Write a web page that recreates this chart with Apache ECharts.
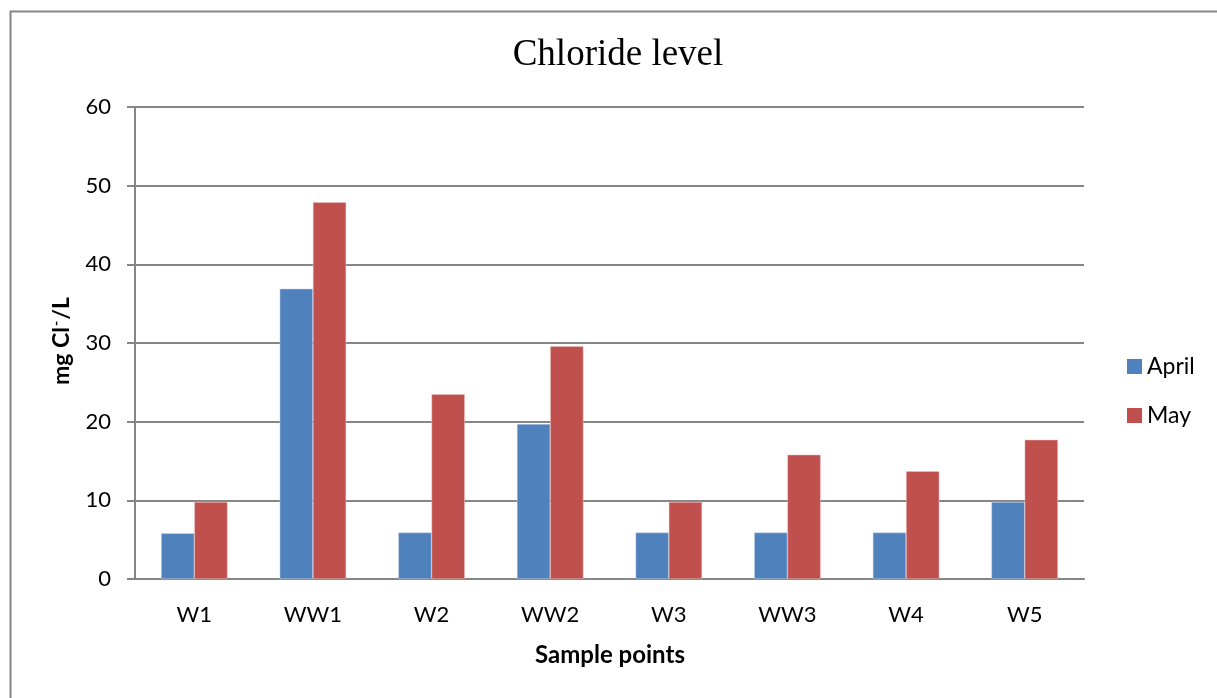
<!DOCTYPE html>
<html>
<head>
<meta charset="utf-8">
<script src="https://cdn.jsdelivr.net/npm/echarts@6/dist/echarts.min.js"></script>
<style>
html,body{margin:0;padding:0;background:#fff;}
#main{width:1217px;height:698px;}
</style>
</head>
<body>
<div id="main"></div>
<script>
const categories = ['W1', 'WW1', 'W2', 'WW2', 'W3', 'WW3', 'W4', 'W5'];
const aprilValues = [5.8, 36.9, 5.9, 19.7, 5.9, 5.9, 5.9, 9.8];
const mayValues = [9.8, 47.9, 23.5, 29.6, 9.8, 15.8, 13.7, 17.7];
const yTicks = [0, 10, 20, 30, 40, 50, 60];

const FONT = 'Lato, "Open Sans", sans-serif';
const chart = echarts.init(document.getElementById('main'), null, {renderer: 'canvas'});
chart.setOption({
  animation: false,
  backgroundColor: '#fff',
  graphic: [
    {type: 'rect', shape: {x: 10.5, y: 11.5, width: 1300, height: 800},
     style: {fill: 'none', stroke: '#868686', lineWidth: 2}, silent: true},
    {type: 'text', x: 618, y: 55,
     style: {text: 'Chloride level', align: 'center', verticalAlign: 'middle',
       font: '37px "Liberation Serif", "Times New Roman", serif', fill: '#000'}},
    {type: 'text', x: 62, y: 341, rotation: Math.PI / 2,
     style: {text: '{a|mg Cl}{s|-}{a|/L}', align: 'center', verticalAlign: 'middle',
       rich: {a: {fontFamily: FONT, fontWeight: 'bold', fontSize: 23, color: '#000'},
              s: {fontFamily: FONT, fontWeight: 'bold', fontSize: 14, color: '#000', padding: [0, 1, 11, 1]}}}},
    {type: 'text', x: 610, y: 655,
     style: {text: 'Sample points', align: 'center', verticalAlign: 'middle',
       font: 'bold 24px ' + FONT, fill: '#000'}}
  ],
  legend: {
    orient: 'vertical', left: 1127, top: 355, padding: 0,
    itemWidth: 15, itemHeight: 15, itemGap: 26,
    icon: 'rect',
    itemStyle: {borderWidth: 0},
    textStyle: {fontFamily: FONT, fontSize: 23, color: '#000'},
    data: ['April', 'May']
  },
  grid: {left: 135, right: 133, top: 107, bottom: 119, containLabel: false},
  xAxis: {
    type: 'category', data: categories,
    axisLine: {lineStyle: {color: '#868686', width: 2}},
    axisTick: {show: false},
    axisLabel: {fontFamily: FONT, fontSize: 22, color: '#000', margin: 25}
  },
  yAxis: {
    type: 'value', min: yTicks[0], max: yTicks[yTicks.length - 1], interval: 10,
    axisLine: {show: true, lineStyle: {color: '#868686', width: 2}},
    axisTick: {show: true, length: 8, lineStyle: {color: '#868686', width: 2}},
    splitLine: {lineStyle: {color: '#868686', width: 2}},
    axisLabel: {fontFamily: FONT, fontSize: 22, color: '#000', margin: 24}
  },
  series: [
    {name: 'April', type: 'bar', data: aprilValues, barGap: '0%', barCategoryGap: '44%',
     itemStyle: {color: '#4F81BD', borderColor: '#c8d6ea', borderWidth: 0.5}},
    {name: 'May', type: 'bar', data: mayValues, barGap: '0%', barCategoryGap: '44%',
     itemStyle: {color: '#C0504D', borderColor: '#eac4c3', borderWidth: 0.5}}
  ]
});
</script>
</body>
</html>
